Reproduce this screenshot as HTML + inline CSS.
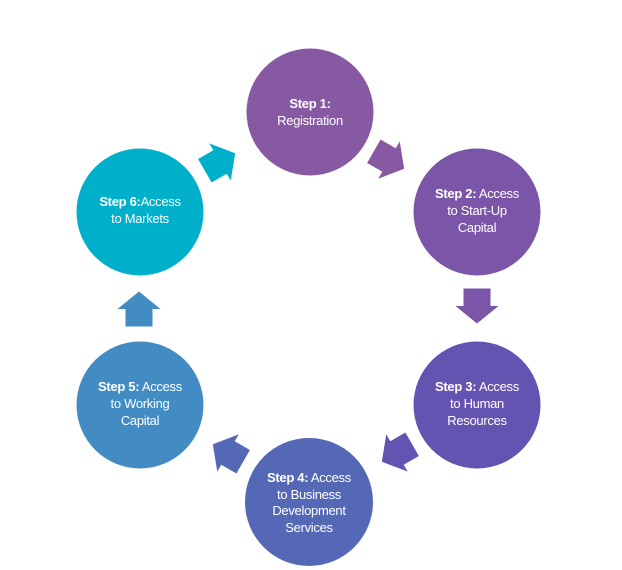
<!DOCTYPE html>
<html><head><meta charset="utf-8"><style>
html,body{margin:0;padding:0;background:#fff;width:622px;height:570px;overflow:hidden}
svg text{font-family:"Liberation Sans",sans-serif;font-size:13px;fill:#fff;text-anchor:middle;letter-spacing:-0.3px}
</style></head><body>
<svg width="622" height="570" viewBox="0 0 622 570" xmlns="http://www.w3.org/2000/svg">
<defs>
<polygon id="ar" points="0,-17.5 21.5,0 13.5,0 13.5,17.5 -13.5,17.5 -13.5,0 -21.5,0"/>
</defs>
<circle cx="310" cy="112" r="63.5" fill="#8859a3"/>
<circle cx="477" cy="212" r="63.5" fill="#7a55a8"/>
<circle cx="477" cy="405" r="63.5" fill="#6453b0"/>
<circle cx="309" cy="502" r="64" fill="#5468b6"/>
<circle cx="140" cy="405" r="63.5" fill="#428bc3"/>
<circle cx="140" cy="212" r="63.5" fill="#00afc9"/>

<use href="#ar" fill="#00afc9" transform="translate(220,162) rotate(60)"/>
<use href="#ar" fill="#8859a3" transform="translate(389,160) rotate(120)"/>
<use href="#ar" fill="#7a55a8" transform="translate(477,306) rotate(180)"/>
<use href="#ar" fill="#6453b0" transform="translate(397,453) rotate(240)"/>
<use href="#ar" fill="#5468b6" transform="translate(228,453) rotate(300)"/>
<use href="#ar" fill="#428bc3" transform="translate(139,309) rotate(0)"/>

<text x="310" y="108"><tspan font-weight="bold">Step 1:</tspan></text>
<text x="310" y="125">Registration</text>

<text x="477" y="198"><tspan font-weight="bold">Step 2:</tspan> Access</text>
<text x="477" y="215">to Start-Up</text>
<text x="477" y="232">Capital</text>

<text x="477" y="391"><tspan font-weight="bold">Step 3:</tspan> Access</text>
<text x="477" y="408">to Human</text>
<text x="477" y="425">Resources</text>

<text x="309" y="482"><tspan font-weight="bold">Step 4:</tspan> Access</text>
<text x="309" y="499">to Business</text>
<text x="309" y="515">Development</text>
<text x="309" y="532">Services</text>

<text x="140" y="391"><tspan font-weight="bold">Step 5:</tspan> Access</text>
<text x="140" y="408">to Working</text>
<text x="140" y="425">Capital</text>

<text x="140" y="206"><tspan font-weight="bold">Step 6:</tspan>Access</text>
<text x="140" y="223">to Markets</text>
</svg>
</body></html>
